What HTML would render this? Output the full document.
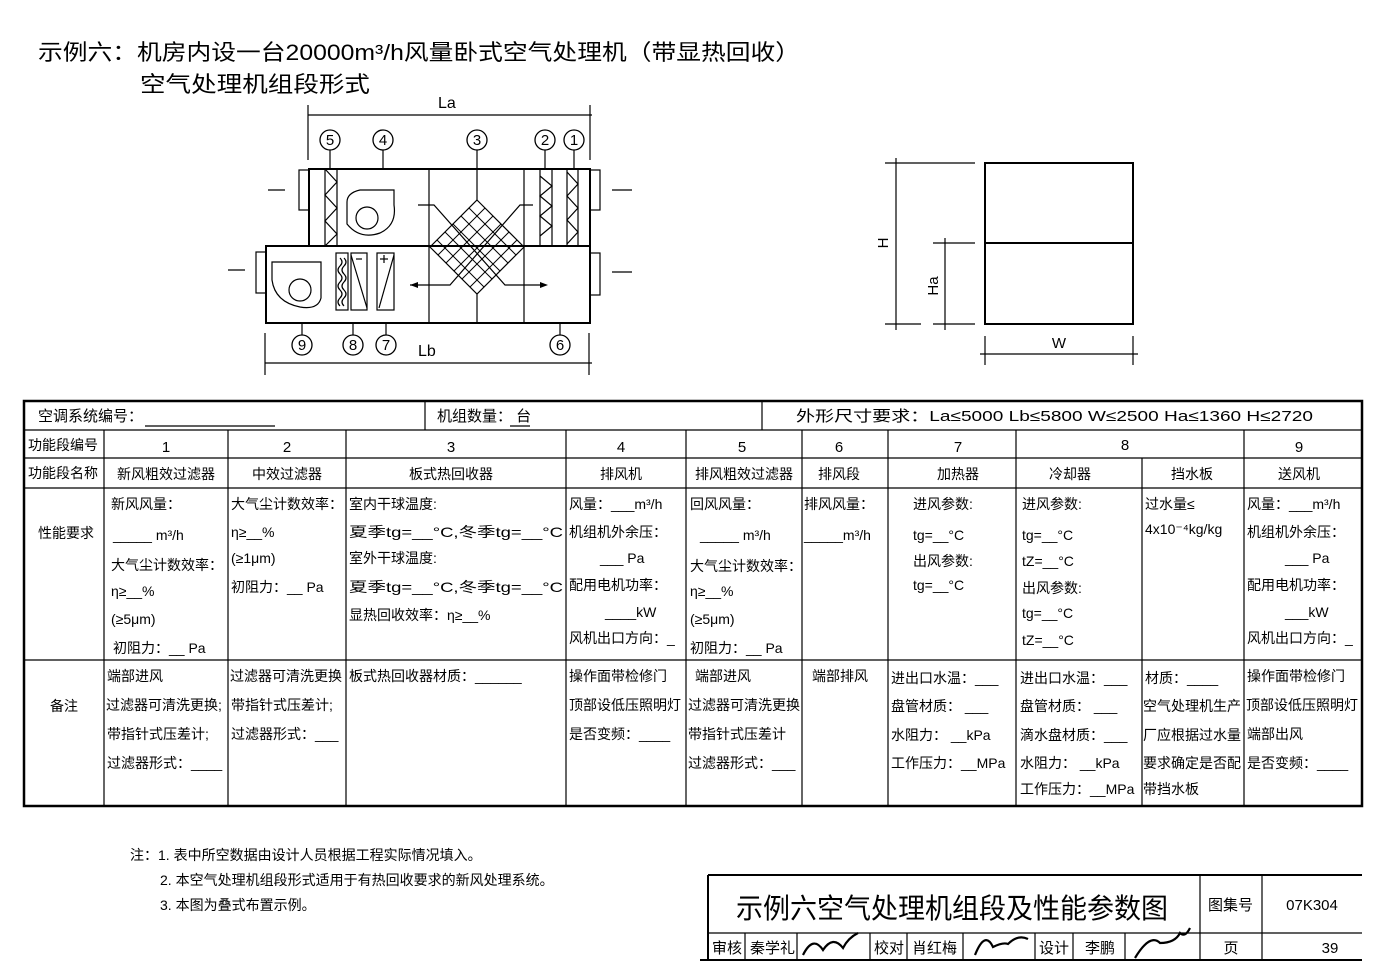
<!DOCTYPE html>
<html><head><meta charset="utf-8"><style>
html,body{margin:0;padding:0;background:#fff}
svg{display:block}
text{font-family:"Liberation Sans","Noto Sans CJK SC",sans-serif;fill:#000}
.t{font-size:14px}
</style></head><body>
<svg width="1398" height="973" viewBox="0 0 1398 973" xmlns="http://www.w3.org/2000/svg">
<rect width="1398" height="973" fill="#fff"/>
<text x="38" y="60" font-size="22" textLength="762" lengthAdjust="spacingAndGlyphs">示例六：机房内设一台20000m³/h风量卧式空气处理机（带显热回收）</text>
<text x="140" y="92" font-size="22" textLength="230" lengthAdjust="spacingAndGlyphs">空气处理机组段形式</text>

<g stroke="#000" fill="none" stroke-width="1.2">
<line x1="308" y1="115" x2="592" y2="115"/><line x1="308" y1="105" x2="308" y2="160"/><line x1="590" y1="105" x2="590" y2="160"/>
<line x1="265" y1="363" x2="592" y2="363"/><line x1="265" y1="333" x2="265" y2="375"/><line x1="589" y1="333" x2="589" y2="375"/>
<rect x="309" y="169" width="281" height="77" stroke-width="2"/>
<rect x="266" y="246" width="324" height="77" stroke-width="2"/>
<line x1="429" y1="169" x2="429" y2="323"/><line x1="524" y1="169" x2="524" y2="323"/>
<rect x="299" y="170" width="10" height="40"/><rect x="590" y="170" width="10" height="40"/>
<rect x="256" y="252" width="10" height="41"/><rect x="590" y="253" width="10" height="42"/>
<rect x="325" y="169" width="12" height="77"/><polyline points="325,169 337,182 325,195 337,208 325,221 337,234 325,246"/>
<rect x="540" y="169" width="12" height="77"/><polyline points="540,176 552,186 540,196 552,206 540,216 552,226 540,236"/>
<rect x="567" y="169" width="11" height="77"/><polyline points="567,172 578,184 567,196 578,208 567,220 578,232 567,244"/>
<path d="M347 202 L347 224 Q360 240 380 233 Q397 225 394 205 L394 190 L360 190 Q347 193 347 202 Z"/><circle cx="367" cy="218" r="11"/>
<path d="M272 262 L321 262 L321 298 Q318 310 300 307 Q275 302 272 280 Z"/><circle cx="300" cy="290" r="11"/>
<rect x="336" y="253" width="12" height="57"/><path d="M340 258 q4 4 0 8 q-4 4 0 8 q4 4 0 8 q-4 4 0 8 q4 4 0 8 q-4 4 0 8 M344 258 q4 4 0 8 q-4 4 0 8 q4 4 0 8 q-4 4 0 8 q4 4 0 8 q-4 4 0 8"/>
<rect x="351" y="253" width="16" height="57"/><line x1="351" y1="255" x2="367" y2="308"/><line x1="356" y1="259" x2="362" y2="259"/>
<rect x="377" y="253" width="17" height="57"/><line x1="379" y1="308" x2="394" y2="255"/><line x1="380" y1="259" x2="388" y2="259"/><line x1="384" y1="255" x2="384" y2="263"/>
<polygon points="477,200 524,247 477,294 430,247"/>
<g stroke-width="1">
<line x1="469" y1="208" x2="516" y2="255"/><line x1="461" y1="216" x2="508" y2="263"/><line x1="453" y1="224" x2="500" y2="271"/><line x1="445" y1="232" x2="492" y2="279"/><line x1="437" y1="240" x2="484" y2="287"/>
<line x1="485" y1="208" x2="438" y2="255"/><line x1="493" y1="216" x2="446" y2="263"/><line x1="501" y1="224" x2="454" y2="271"/><line x1="509" y1="232" x2="462" y2="279"/><line x1="517" y1="240" x2="470" y2="287"/>
</g>
<polyline points="418,205 434,205 505,285 540,285"/><polyline points="533,205 520,205 450,285 410,285"/>
<line x1="477" y1="294" x2="477" y2="323"/><line x1="477" y1="150" x2="477" y2="200"/>
<line x1="330" y1="150" x2="330" y2="169"/><line x1="383" y1="150" x2="383" y2="169"/><line x1="545" y1="150" x2="545" y2="169"/><line x1="574" y1="150" x2="574" y2="169"/>
<line x1="302" y1="323" x2="302" y2="335"/><line x1="353" y1="323" x2="353" y2="335"/><line x1="386" y1="323" x2="386" y2="335"/><line x1="560" y1="323" x2="560" y2="335"/>
<g stroke-width="1.3">
<circle cx="330" cy="140" r="10"/><circle cx="383" cy="140" r="10"/><circle cx="477" cy="140" r="10"/><circle cx="545" cy="140" r="10"/><circle cx="574" cy="140" r="10"/>
<circle cx="302" cy="345" r="10"/><circle cx="353" cy="345" r="10"/><circle cx="386" cy="345" r="10"/><circle cx="560" cy="345" r="10"/>
</g>
<line x1="268" y1="190" x2="285" y2="190"/><line x1="612" y1="190" x2="632" y2="190"/><line x1="228" y1="270" x2="245" y2="270"/><line x1="612" y1="272" x2="632" y2="272"/>
</g>
<g fill="#000"><polygon points="410,285 418,282 418,288"/><polygon points="548,285 540,282 540,288"/></g>
<g font-size="15">
<text x="330" y="145" text-anchor="middle">5</text><text x="383" y="145" text-anchor="middle">4</text><text x="477" y="145" text-anchor="middle">3</text><text x="545" y="145" text-anchor="middle">2</text><text x="574" y="145" text-anchor="middle">1</text>
<text x="302" y="350" text-anchor="middle">9</text><text x="353" y="350" text-anchor="middle">8</text><text x="386" y="350" text-anchor="middle">7</text><text x="560" y="350" text-anchor="middle">6</text>
</g>
<text x="438" y="108" font-size="16">La</text><text x="418" y="356" font-size="16">Lb</text>

<g stroke="#000" fill="none" stroke-width="1.2">
<rect x="985" y="163" width="148" height="161" stroke-width="2"/><line x1="985" y1="243" x2="1133" y2="243" stroke-width="2"/>
<line x1="896" y1="158" x2="896" y2="330"/><line x1="885" y1="163" x2="975" y2="163"/><line x1="885" y1="324" x2="921" y2="324"/>
<line x1="945" y1="238" x2="945" y2="330"/><line x1="933" y1="243" x2="975" y2="243"/><line x1="933" y1="324" x2="975" y2="324"/>
<line x1="980" y1="354" x2="1138" y2="354"/><line x1="985" y1="336" x2="985" y2="365"/><line x1="1133" y1="336" x2="1133" y2="365"/>
</g>
<text transform="translate(888,243) rotate(-90)" font-size="15" text-anchor="middle">H</text>
<text transform="translate(938,286) rotate(-90)" font-size="15" text-anchor="middle">Ha</text>
<text x="1059" y="348" font-size="15" text-anchor="middle">W</text>

<g stroke="#000" fill="none" stroke-width="1.2">
<rect x="24" y="401" width="1338" height="405" stroke-width="2.5"/>
<line x1="24" y1="430" x2="1362" y2="430"/><line x1="24" y1="458" x2="1362" y2="458"/><line x1="24" y1="488" x2="1362" y2="488"/><line x1="24" y1="660" x2="1362" y2="660"/>
<line x1="425" y1="401" x2="425" y2="430"/><line x1="762" y1="401" x2="762" y2="430"/>
<line x1="104" y1="430" x2="104" y2="806"/><line x1="228" y1="430" x2="228" y2="806"/><line x1="346" y1="430" x2="346" y2="806"/><line x1="566" y1="430" x2="566" y2="806"/><line x1="686" y1="430" x2="686" y2="806"/><line x1="802" y1="430" x2="802" y2="806"/><line x1="888" y1="430" x2="888" y2="806"/><line x1="1016" y1="430" x2="1016" y2="806"/><line x1="1142" y1="458" x2="1142" y2="806"/><line x1="1244" y1="430" x2="1244" y2="806"/>
<line x1="145" y1="426" x2="275" y2="426"/><line x1="510" y1="426" x2="530" y2="426"/>
</g>
<g class="t">
<text x="38" y="421" font-size="15">空调系统编号：</text><text x="437" y="421" font-size="15">机组数量：     台</text>
<text x="796" y="421" font-size="15" textLength="517" lengthAdjust="spacingAndGlyphs">外形尺寸要求：La≤5000  Lb≤5800    W≤2500    Ha≤1360  H≤2720</text>
<text x="28" y="450">功能段编号</text><text x="28" y="478">功能段名称</text>
<text x="38" y="538">性能要求</text><text x="50" y="711">备注</text>
<g text-anchor="middle" font-size="15">
<text x="166" y="452">1</text><text x="287" y="452">2</text><text x="451" y="452">3</text><text x="621" y="452">4</text><text x="742" y="452">5</text><text x="839" y="452">6</text><text x="958" y="452">7</text><text x="1125" y="450">8</text><text x="1299" y="452">9</text>
</g>
<g text-anchor="middle">
<text x="166" y="479">新风粗效过滤器</text><text x="287" y="479">中效过滤器</text><text x="451" y="479">板式热回收器</text><text x="621" y="479">排风机</text><text x="744" y="479">排风粗效过滤器</text><text x="839" y="479">排风段</text><text x="958" y="479">加热器</text><text x="1070" y="479">冷却器</text><text x="1192" y="479">挡水板</text><text x="1299" y="479">送风机</text>
</g>
<text x="111" y="509">新风风量：</text><text x="113" y="540">_____  m³/h</text><text x="111" y="570">大气尘计数效率：</text><text x="111" y="596">η≥__%</text><text x="111" y="624">(≥5μm)</text><text x="113" y="653">初阻力：__ Pa</text>
<text x="107" y="681">端部进风</text><text x="106" y="710">过滤器可清洗更换;</text><text x="107" y="739">带指针式压差计;</text><text x="107" y="768">过滤器形式：____</text>
<text x="231" y="509">大气尘计数效率：</text><text x="231" y="537">η≥__%</text><text x="231" y="563">(≥1μm)</text><text x="231" y="592">初阻力：__ Pa</text>
<text x="230" y="681">过滤器可清洗更换</text><text x="231" y="710">带指针式压差计;</text><text x="231" y="739">过滤器形式：___</text>
<text x="349" y="509">室内干球温度:</text><text x="349" y="537" textLength="214" lengthAdjust="spacingAndGlyphs">夏季tg=__°C,冬季tg=__°C</text><text x="349" y="563">室外干球温度:</text><text x="349" y="592" textLength="214" lengthAdjust="spacingAndGlyphs">夏季tg=__°C,冬季tg=__°C</text><text x="349" y="620">显热回收效率：η≥__%</text>
<text x="349" y="681">板式热回收器材质：______</text>
<text x="569" y="509">风量：___m³/h</text><text x="569" y="537">机组机外余压：</text><text x="600" y="563">___ Pa</text><text x="569" y="590">配用电机功率：</text><text x="605" y="617">____kW</text><text x="569" y="643">风机出口方向：_</text>
<text x="569" y="681">操作面带检修门</text><text x="569" y="710">顶部设低压照明灯</text><text x="569" y="739">是否变频：____</text>
<text x="690" y="509">回风风量：</text><text x="700" y="540">_____ m³/h</text><text x="690" y="571">大气尘计数效率：</text><text x="690" y="596">η≥__%</text><text x="690" y="624">(≥5μm)</text><text x="690" y="653">初阻力：__ Pa</text>
<text x="695" y="681">端部进风</text><text x="688" y="710">过滤器可清洗更换</text><text x="688" y="739">带指针式压差计</text><text x="688" y="768">过滤器形式：___</text>
<text x="804" y="509">排风风量：</text><text x="804" y="540">_____m³/h</text><text x="812" y="681">端部排风</text>
<text x="913" y="509">进风参数:</text><text x="913" y="540">tg=__°C</text><text x="913" y="566">出风参数:</text><text x="913" y="590">tg=__°C</text>
<text x="891" y="683">进出口水温：___</text><text x="891" y="711">盘管材质：  ___</text><text x="891" y="740">水阻力：  __kPa</text><text x="891" y="768">工作压力：__MPa</text>
<text x="1022" y="509">进风参数:</text><text x="1022" y="540">tg=__°C</text><text x="1022" y="566">tZ=__°C</text><text x="1022" y="593">出风参数:</text><text x="1022" y="618">tg=__°C</text><text x="1022" y="645">tZ=__°C</text>
<text x="1020" y="683">进出口水温：___</text><text x="1020" y="711">盘管材质：  ___</text><text x="1020" y="740">滴水盘材质：___</text><text x="1020" y="768">水阻力：  __kPa</text><text x="1020" y="794">工作压力：__MPa</text>
<text x="1145" y="509">过水量≤</text><text x="1145" y="534">4x10⁻⁴kg/kg</text>
<text x="1145" y="683">材质：____</text><text x="1143" y="711">空气处理机生产</text><text x="1143" y="740">厂应根据过水量</text><text x="1143" y="768">要求确定是否配</text><text x="1143" y="794">带挡水板</text>
<text x="1247" y="509">风量：___m³/h</text><text x="1247" y="537">机组机外余压：</text><text x="1285" y="563">___ Pa</text><text x="1247" y="590">配用电机功率：</text><text x="1285" y="617">___kW</text><text x="1247" y="643">风机出口方向：_</text>
<text x="1247" y="681">操作面带检修门</text><text x="1246" y="710">顶部设低压照明灯</text><text x="1247" y="739">端部出风</text><text x="1247" y="768">是否变频：____</text>
</g>

<g font-size="14">
<text x="130" y="860">注：1. 表中所空数据由设计人员根据工程实际情况填入。</text>
<text x="160" y="885">2. 本空气处理机组段形式适用于有热回收要求的新风处理系统。</text>
<text x="160" y="910">3. 本图为叠式布置示例。</text>
</g>

<g stroke="#000" fill="none" stroke-width="1.2">
<line x1="708" y1="875" x2="1362" y2="875" stroke-width="2"/>
<line x1="708" y1="875" x2="708" y2="960" stroke-width="2"/>
<line x1="708" y1="933" x2="1362" y2="933"/>
<line x1="700" y1="960" x2="1362" y2="960" stroke-width="2"/>
<line x1="1200" y1="875" x2="1200" y2="960"/><line x1="1262" y1="875" x2="1262" y2="960"/>
<line x1="745" y1="933" x2="745" y2="960"/><line x1="797" y1="933" x2="797" y2="960"/><line x1="870" y1="933" x2="870" y2="960"/><line x1="907" y1="933" x2="907" y2="960"/><line x1="963" y1="933" x2="963" y2="960"/><line x1="1035" y1="933" x2="1035" y2="960"/><line x1="1073" y1="933" x2="1073" y2="960"/><line x1="1125" y1="933" x2="1125" y2="960"/>
<path d="M803 955 q10 -20 20 -5 q10 -15 20 -2 q5 -10 15 -15 M975 955 q10 -25 18 -8 q10 -5 15 -3 q10 -10 20 -5 M1135 958 q15 -25 25 -15 q15 0 20 -10 q5 5 10 -5" stroke-width="2.2"/>
</g>
<text x="736" y="918" font-size="28" textLength="432" lengthAdjust="spacingAndGlyphs">示例六空气处理机组段及性能参数图</text>
<g font-size="15">
<text x="1208" y="910">图集号</text><text x="1312" y="910" text-anchor="middle" font-family="Liberation Serif">07K304</text>
<text x="712" y="953">审核</text><text x="750" y="953">秦学礼</text><text x="874" y="953">校对</text><text x="912" y="953">肖红梅</text><text x="1039" y="953">设计</text><text x="1085" y="953">李鹏</text>
<text x="1231" y="953" text-anchor="middle">页</text><text x="1330" y="953" text-anchor="middle" font-family="Liberation Serif">39</text>
</g>
</svg>
</body></html>
